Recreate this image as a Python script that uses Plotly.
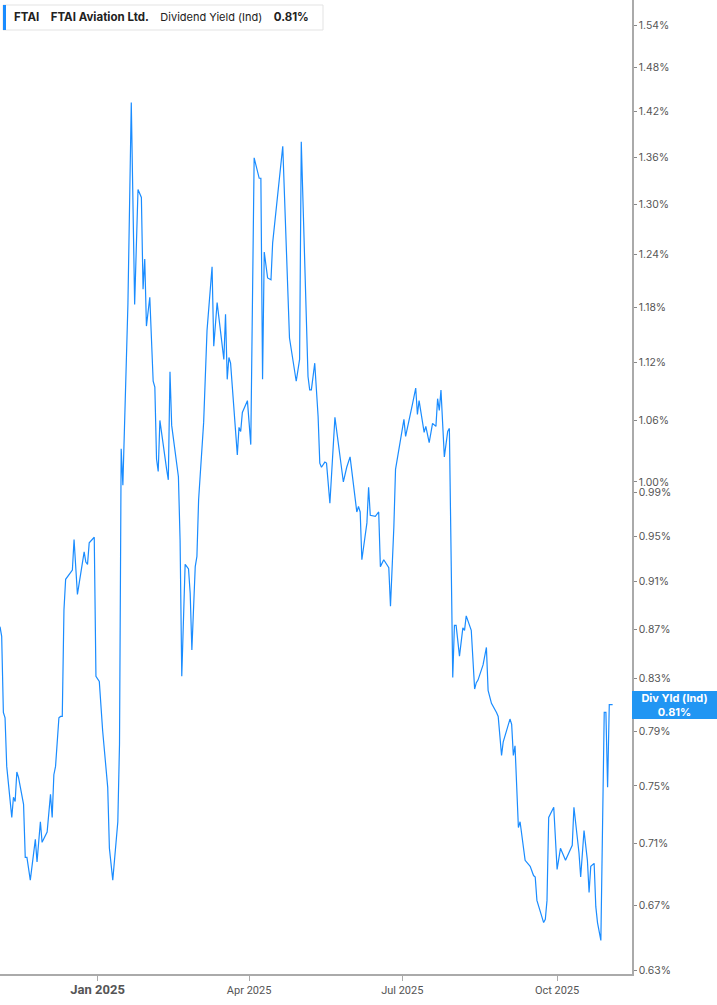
import math
import plotly.graph_objects as go

dates = [
    "2024-11-04","2024-11-05","2024-11-06","2024-11-07","2024-11-08","2024-11-11","2024-11-12","2024-11-13","2024-11-14","2024-11-15",
    "2024-11-18","2024-11-19","2024-11-20","2024-11-22","2024-11-25","2024-11-26","2024-11-28","2024-11-29","2024-12-02","2024-12-04",
    "2024-12-05","2024-12-06","2024-12-07","2024-12-09","2024-12-10","2024-12-11","2024-12-12","2024-12-13","2024-12-17","2024-12-18",
    "2024-12-20","2024-12-24","2024-12-25","2024-12-26","2024-12-27","2024-12-30",
    "2024-12-31","2025-01-02","2025-01-04","2025-01-07","2025-01-08","2025-01-10","2025-01-13","2025-01-14","2025-01-15","2025-01-16",
    "2025-01-19","2025-01-21","2025-01-23","2025-01-25","2025-01-27","2025-01-28","2025-01-29","2025-01-30","2025-02-01","2025-02-03",
    "2025-02-04","2025-02-05","2025-02-06","2025-02-07","2025-02-11","2025-02-12","2025-02-13","2025-02-14","2025-02-18","2025-02-19",
    "2025-02-20","2025-02-22","2025-02-24","2025-02-25","2025-02-26","2025-02-28","2025-03-01","2025-03-02","2025-03-05","2025-03-07",
    "2025-03-10","2025-03-11","2025-03-13",
    "2025-03-15","2025-03-17","2025-03-18","2025-03-19","2025-03-20","2025-03-21","2025-03-25","2025-03-26","2025-03-27","2025-03-28",
    "2025-03-31","2025-04-02","2025-04-04","2025-04-07","2025-04-08","2025-04-09","2025-04-10","2025-04-12","2025-04-14","2025-04-15",
    "2025-04-21","2025-04-25","2025-04-29","2025-05-01","2025-05-02","2025-05-06","2025-05-07","2025-05-08","2025-05-10","2025-05-12",
    "2025-05-13","2025-05-14","2025-05-16","2025-05-17",
    "2025-05-19","2025-05-22","2025-05-27","2025-05-29","2025-05-31","2025-06-02","2025-06-04","2025-06-05","2025-06-06","2025-06-07",
    "2025-06-10","2025-06-11","2025-06-12","2025-06-15","2025-06-17","2025-06-18","2025-06-20","2025-06-23","2025-06-24","2025-06-26",
    "2025-06-27","2025-07-02","2025-07-03","2025-07-07","2025-07-09","2025-07-10","2025-07-11","2025-07-14","2025-07-15","2025-07-17",
    "2025-07-19","2025-07-21","2025-07-22","2025-07-23","2025-07-24","2025-07-26","2025-07-28","2025-07-29",
    "2025-07-31","2025-08-01","2025-08-02","2025-08-04","2025-08-06","2025-08-07","2025-08-08","2025-08-11","2025-08-13","2025-08-14",
    "2025-08-15","2025-08-18","2025-08-20","2025-08-21","2025-08-23","2025-08-26","2025-08-27","2025-08-29","2025-08-30","2025-09-03",
    "2025-09-04","2025-09-05","2025-09-06","2025-09-08","2025-09-09","2025-09-12","2025-09-15",
    "2025-09-17","2025-09-18","2025-09-19","2025-09-23","2025-09-24","2025-09-25","2025-09-26","2025-09-29","2025-10-01","2025-10-03",
    "2025-10-06","2025-10-09","2025-10-10","2025-10-11","2025-10-13","2025-10-14","2025-10-15","2025-10-16","2025-10-17","2025-10-19",
    "2025-10-20","2025-10-21","2025-10-23","2025-10-24","2025-10-25","2025-10-27","2025-10-29","2025-10-30","2025-10-31","2025-11-01",
    "2025-11-03",
]

div_yield = [
    0.872,0.864,0.804,0.800,0.764,0.728,0.742,0.739,0.760,0.756,
    0.737,0.701,0.701,0.686,0.713,0.698,0.725,0.711,0.718,0.744,
    0.728,0.758,0.764,0.800,0.801,0.801,0.886,0.912,0.920,0.947,
    0.899,0.936,0.927,0.925,0.944,0.949,
    0.832,0.828,0.790,0.749,0.707,0.686,0.725,0.780,1.032,0.997,
    1.183,1.432,1.183,1.319,1.309,1.200,1.235,1.159,1.191,1.100,
    1.094,1.022,1.010,1.060,1.012,1.002,1.110,1.055,1.005,0.946,
    0.832,0.925,0.921,0.900,0.853,0.923,0.932,0.983,1.058,1.154,
    1.226,1.137,1.185,
    1.150,1.123,1.172,1.102,1.125,1.119,1.026,1.053,1.049,1.068,
    1.080,1.036,1.359,1.333,1.333,1.102,1.243,1.213,1.211,1.254,
    1.374,1.146,1.100,1.123,1.380,1.105,1.091,1.091,1.119,1.064,
    1.018,1.014,1.019,1.018,
    0.980,1.063,1.000,1.014,1.024,0.997,0.972,0.977,0.972,0.929,
    0.962,0.995,0.969,0.968,0.972,0.923,0.929,0.922,0.889,0.958,
    1.012,1.061,1.044,1.076,1.093,1.066,1.080,1.048,1.054,1.038,
    1.057,1.054,1.082,1.070,1.091,1.024,1.049,1.052,
    0.831,0.873,0.873,0.848,0.871,0.869,0.881,0.869,0.822,0.827,
    0.829,0.841,0.855,0.821,0.811,0.804,0.801,0.772,0.782,0.799,
    0.795,0.772,0.779,0.721,0.725,0.699,0.695,
    0.689,0.688,0.673,0.659,0.661,0.673,0.728,0.735,0.693,0.707,
    0.699,0.706,0.709,0.735,0.715,0.704,0.688,0.706,0.719,0.699,
    0.678,0.695,0.697,0.669,0.659,0.648,0.804,0.804,0.749,0.810,
    0.810,
]

y_ticks = [0.63, 0.67, 0.71, 0.75, 0.79, 0.83, 0.87, 0.91, 0.95, 0.99, 1.00,
           1.06, 1.12, 1.18, 1.24, 1.30, 1.36, 1.42, 1.48, 1.54]
x_tick_dates = ["2025-01-01", "2025-04-01", "2025-07-01", "2025-10-01"]
x_tick_labels = ["<span style='font-size:13px'><b>Jan 2025</b></span>", "Apr 2025", "Jul 2025", "Oct 2025"]

ticker = "FTAI"
company = "FTAI Aviation Ltd."
metric = "Dividend Yield (Ind)"
short_metric = "Div Yld (Ind)"

LINE = "#1a8cff"
last_val = div_yield[-1]

fig = go.Figure()
fig.add_trace(go.Scatter(
    x=dates, y=div_yield, mode="lines",
    line=dict(color=LINE, width=1.2),
    hoverinfo="skip", showlegend=False,
))

fig.update_layout(
    width=717, height=1005,
    margin=dict(l=0, r=85, t=0, b=31),
    paper_bgcolor="white", plot_bgcolor="white",
    font=dict(family="Inter, Roboto, sans-serif", color="#555", size=11),
    xaxis=dict(
        type="date",
        range=["2024-11-04", "2025-11-14 12:00"],
        tickvals=x_tick_dates, ticktext=x_tick_labels,
        showgrid=False, zeroline=False,
        showline=True, linecolor="#aaaaaa", linewidth=1.5,
        ticks="outside", ticklen=5, tickcolor="#aaaaaa",
        tickfont=dict(family="Roboto, sans-serif", size=11, color="#555"),
    ),
    yaxis=dict(
        type="log", side="right",
        range=[math.log10(0.6277), math.log10(1.578)],
        tickvals=y_ticks, ticktext=[f"{v:.2f}%" for v in y_ticks],
        showgrid=False, zeroline=False,
        showline=True, linecolor="#aaaaaa", linewidth=1.5,
        ticks="outside", ticklen=3, tickcolor="#888",
        tickfont=dict(family="Inter, Roboto, sans-serif", size=10.4, color="#555"),
    ),
)

# header box
fig.add_shape(type="rect", xref="paper", yref="paper",
              xsizemode="pixel", ysizemode="pixel", xanchor=0, yanchor=1,
              x0=3, x1=323, y0=-5, y1=-30,
              fillcolor="white", line=dict(color="#e3e3e3", width=1), layer="above")
fig.add_shape(type="rect", xref="paper", yref="paper",
              xsizemode="pixel", ysizemode="pixel", xanchor=0, yanchor=1,
              x0=3, x1=6, y0=-5, y1=-30,
              fillcolor=LINE, line=dict(width=0), layer="above")
fig.add_annotation(
    xref="paper", yref="paper", x=0, y=1, xanchor="left", yanchor="middle",
    xshift=12, yshift=-17, showarrow=False, align="left",
    text=(f"<b>{ticker}</b>\u2003<b>{company}</b>\u2003"
          f"<span style='font-size:11px'>{metric}</span>\u2003<b>{last_val:.2f}%</b>"),
    font=dict(family="Inter, Roboto, sans-serif", size=11.5, color="#222"),
)

# right value label
fig.add_annotation(
    xref="paper", yref="y", x=1, y=math.log10(last_val), xanchor="left", yanchor="middle",
    showarrow=False, align="center", width=81, height=24,
    text=f"<b>{short_metric}<br>{last_val:.2f}%</b>",
    bgcolor="#2196f3", borderpad=2, bordercolor="#2196f3", borderwidth=0,
    font=dict(family="Inter, Roboto, sans-serif", size=11, color="white"),
)

fig.write_html("out.html", config={"displayModeBar": False},
               post_script="document.body.style.margin='0';")
